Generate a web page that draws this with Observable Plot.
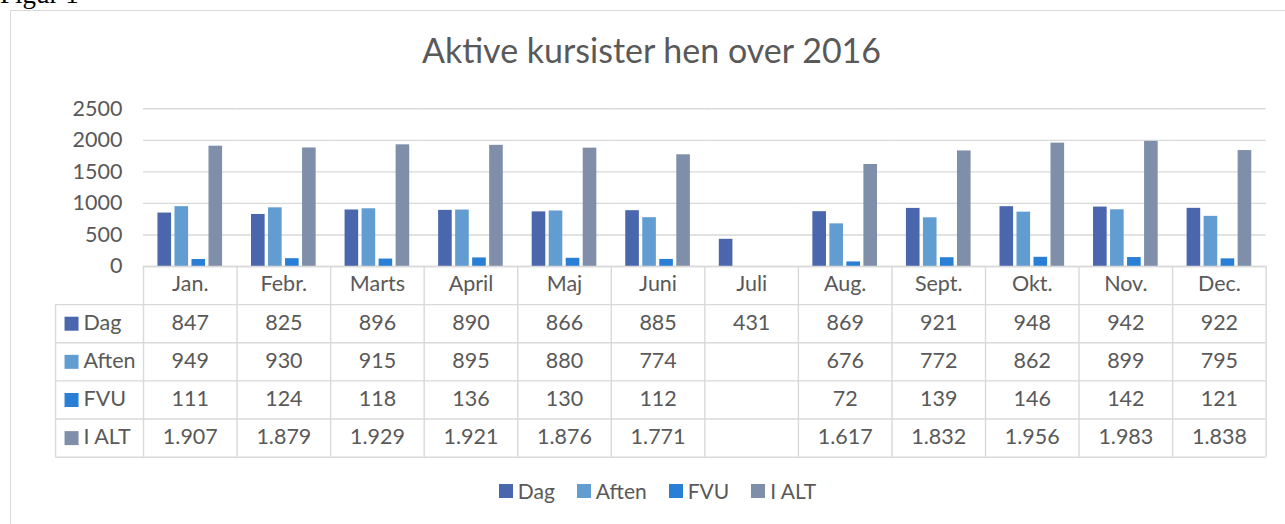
<!DOCTYPE html>
<html>
<head>
<meta charset="utf-8">
<script src="https://cdn.jsdelivr.net/npm/d3@7"></script>
<script src="https://cdn.jsdelivr.net/npm/@observablehq/plot@0.6"></script>
<style>
  html, body { margin: 0; padding: 0; background: #fff; }
  #wrap { position: relative; width: 1285px; height: 524px; overflow: hidden; font-family: Lato, Carlito, Calibri, sans-serif; color: #595959; }
  #border { position: absolute; left: 10px; top: 10px; width: 1400px; height: 600px; border: 1.5px solid #d9d9d9; box-sizing: border-box; }
  #figur { position: absolute; left: 0; top: 0; }
  #title { position: absolute; left: 9px; width: 1285px; top: 33px; text-align: center; font-size: 34px; line-height: 34px; }
  #bars { position: absolute; left: 0; top: 0; }
  #table { position: absolute; left: 0; top: 256px; }
  #legend { position: absolute; left: 0; width: 1285px; top: 480px; display: flex; justify-content: center; font-size: 21px; line-height: 21px; padding-left: 30px; box-sizing: border-box; }
  #legend .item { display: flex; align-items: center; margin: 0 11px; }
  #legend .sw { width: 14px; height: 14px; margin-right: 5px; display: inline-block; }
</style>
</head>
<body>
<div id="wrap">
  <div id="border"></div>
  <svg id="figur" width="200" height="10"><text x="0" y="3" font-family="'Liberation Serif', 'Times New Roman', serif" font-size="27" fill="#000">Figur 1</text></svg>
  <div id="title">Aktive kursister hen over 2016</div>
  <div id="bars"></div>
  <div id="table"></div>
  <div id="legend"></div>
</div>
<script>
const months = ["Jan.", "Febr.", "Marts", "April", "Maj", "Juni", "Juli", "Aug.", "Sept.", "Okt.", "Nov.", "Dec."];
const seriesNames = ["Dag", "Aften", "FVU", "I ALT"];
const seriesColors = ["#4A66AC", "#629DD1", "#297FD5", "#7F8FA9"];
const dag   = [847, 825, 896, 890, 866, 885, 431, 869, 921, 948, 942, 922];
const aften = [949, 930, 915, 895, 880, 774, null, 676, 772, 862, 899, 795];
const fvu   = [111, 124, 118, 136, 130, 112, null, 72, 139, 146, 142, 121];
const ialt  = [1907, 1879, 1929, 1921, 1876, 1771, null, 1617, 1832, 1956, 1983, 1838];
const yTicks = [0, 500, 1000, 1500, 2000, 2500];

const seriesValues = [dag, aften, fvu, ialt];
const rows = [];
months.forEach((m, i) => seriesNames.forEach((s, j) => {
  rows.push({month: m, col: i, series: s, row: j, value: seriesValues[j][i]});
}));

const fmt = d3.formatLocale({decimal: ",", thousands: ".", grouping: [3], currency: ["", " kr."]}).format(",d");

const font = "Lato, Carlito, Calibri, sans-serif";

// Bars
const bars = Plot.plot({
  width: 1285,
  height: 270,
  marginTop: 108.3,
  marginBottom: 4,
  marginLeft: 143,
  marginRight: 19.3,
  style: {fontFamily: font, fontSize: "21.5px", color: "#595959", background: "transparent", overflow: "visible"},
  fx: {domain: months, padding: 0, axis: null, round: false},
  x: {domain: seriesNames, paddingInner: 0.2, paddingOuter: 0.85, axis: null, round: false},
  y: {domain: [0, 2500], ticks: yTicks, tickSize: 0, tickPadding: 21, label: null, tickFormat: d => String(d)},
  color: {domain: seriesNames, range: seriesColors},
  marks: [
    Plot.ruleY(yTicks, {stroke: "#d9d9d9", strokeWidth: 1.4}),
    Plot.barY(rows.filter(d => d.value != null), {fx: "month", x: "series", y: "value", fill: "series", inset: 0})
  ]
});
document.getElementById("bars").appendChild(bars);

// Table
const cells = [];
months.forEach((m, i) => cells.push({col: i, row: 0, text: m}));
rows.forEach(d => { if (d.value != null) cells.push({col: d.col, row: d.row + 1, text: fmt(d.value)}); });

const table = Plot.plot({
  width: 1285,
  height: 210.7,
  marginTop: 10,
  marginBottom: 10,
  marginLeft: 55,
  marginRight: 19.3,
  style: {fontFamily: font, fontSize: "21.5px", color: "#595959", background: "transparent", overflow: "visible"},
  x: {type: "linear", domain: [0, 12], range: [143, 1265.7], axis: null},
  y: {type: "linear", domain: [0, 5], range: [10, 200.7], axis: null},
  marks: [
    Plot.ruleY([1, 2, 3, 4, 5], {stroke: "#d9d9d9", strokeWidth: 1.4}),
    Plot.ruleY([0], {x1: 0, x2: 12, stroke: "#d9d9d9", strokeWidth: 1.4}),
    Plot.ruleX(d3.range(months.length + 1), {y1: 0, y2: 5, stroke: "#d9d9d9", strokeWidth: 1.4}),
    Plot.ruleX([0], {y1: 1, y2: 5, dx: -88, stroke: "#d9d9d9", strokeWidth: 1.4}),
    Plot.text(cells, {x: d => d.col + 0.5, y: d => d.row + 0.5, text: "text", fill: "#595959", fontSize: 21.5, dy: -1}),
    Plot.dot(seriesNames, {x: () => 0, y: (d, i) => i + 1.5, dx: -72, symbol: "square", r: 7.9, fill: (d, i) => seriesColors[i], stroke: null}),
    Plot.text(seriesNames, {x: () => 0, y: (d, i) => i + 1.5, dx: -60, text: d => d, textAnchor: "start", fill: "#595959", fontSize: 21.5, dy: -1})
  ]
});
document.getElementById("table").appendChild(table);

// Legend
const legend = document.getElementById("legend");
seriesNames.forEach((s, i) => {
  const item = document.createElement("span");
  item.className = "item";
  const sw = document.createElement("span");
  sw.className = "sw";
  sw.style.background = seriesColors[i];
  item.appendChild(sw);
  item.appendChild(document.createTextNode(s));
  legend.appendChild(item);
});
</script>
</body>
</html>
